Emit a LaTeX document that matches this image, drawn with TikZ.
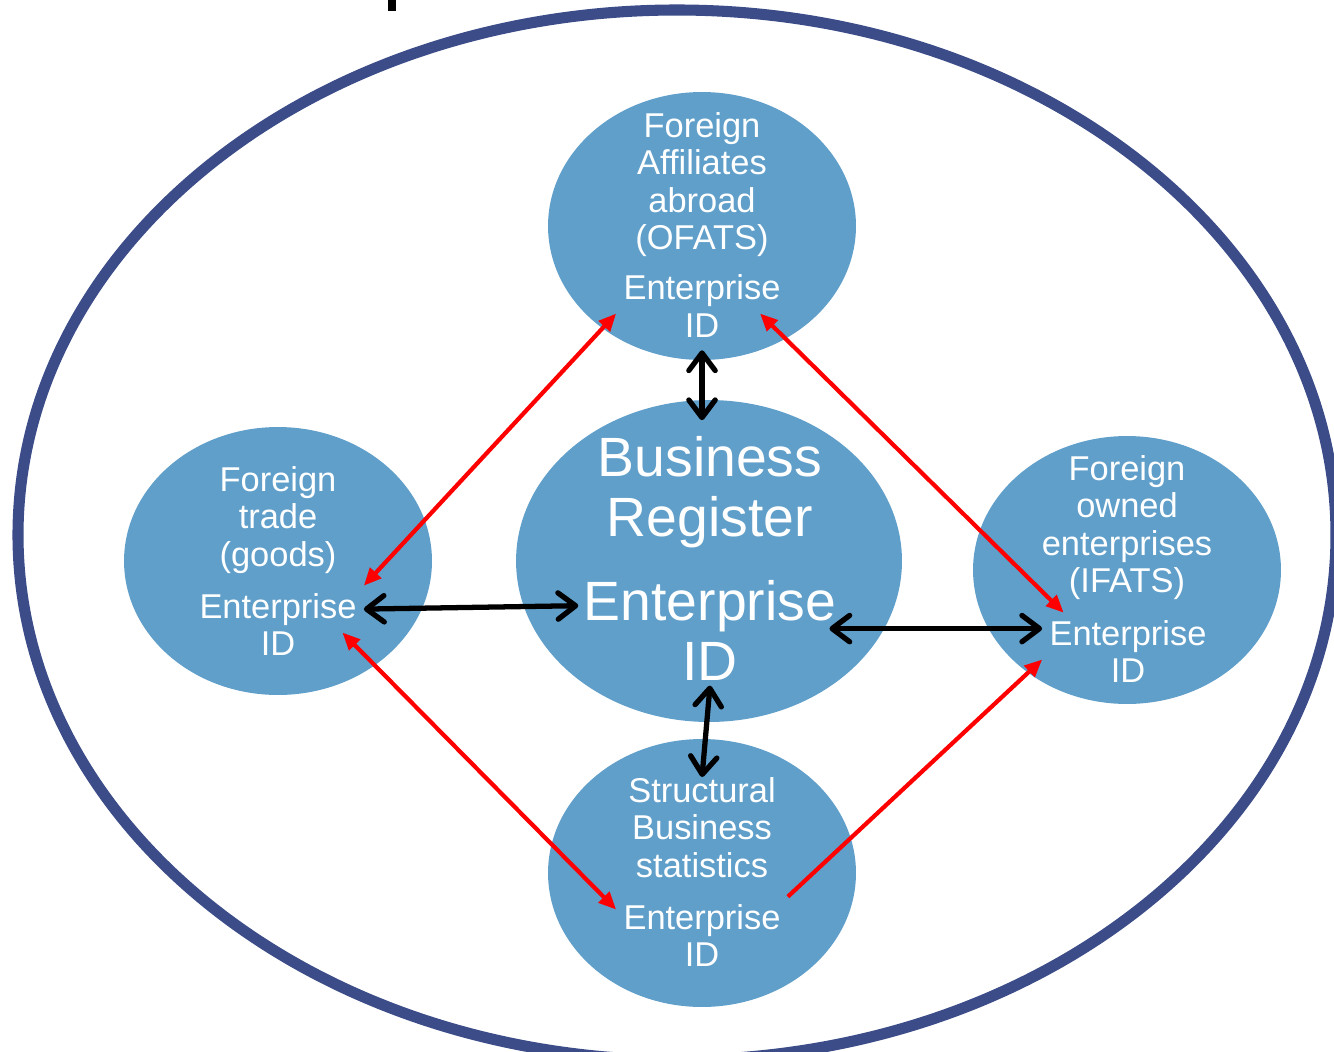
\documentclass[tikz,border=0pt]{standalone}
\usepackage{fontspec}
\setmainfont{Liberation Sans}
\usetikzlibrary{positioning,shapes.geometric,arrows.meta}
\definecolor{rimblue}{HTML}{3B4C89}
\definecolor{bubblue}{HTML}{609FCA}
\definecolor{linkred}{HTML}{FF0000}

\begin{document}
\begin{tikzpicture}[x=0.02cm, y=-0.02cm,
  bubble/.style={ellipse, fill=bubblue, draw=none, inner sep=0pt, minimum width=6.16cm, minimum height=5.36cm},
  bubtext/.style={text=white, font=\fontsize{19.6}{21.3}\selectfont, align=center, inner sep=0pt, anchor=north},
  bigtext/.style={text=white, font=\fontsize{31.5}{34}\selectfont, align=center, inner sep=0pt, anchor=north},
  entid/.style={text=white, font=\fontsize{19.6}{21.3}\selectfont, inner sep=4pt, anchor=base},
  bigid/.style={text=white, font=\fontsize{31.5}{34}\selectfont, inner sep=3pt, anchor=base},
  blklink/.style={black, line width=3pt, {Straight Barb[length=10pt,width=15pt,round]}-{Straight Barb[length=10pt,width=15pt,round]}},
  redlink/.style={linkred, line width=2.4pt, -{Triangle[length=10pt,width=8.5pt]}},
  redboth/.style={redlink, {Triangle[length=10pt,width=8.5pt]}-{Triangle[length=10pt,width=8.5pt]}},
]
\useasboundingbox (0,0) rectangle (1334,1051);
\clip (0,0) rectangle (1334,1051);

% outer ring
\draw[rimblue, line width=6.3pt] (677,535) ellipse [x radius=659, y radius=525];
\fill (388,0) rectangle (396,11);

% bubbles
\node[bubble] (ofats) at (702,226) {};
\node[bubble] (trade) at (278,561) {};
\node[bubble] (ifats) at (1127,570) {};
\node[bubble] (sbs) at (702,873) {};
\node[bubble, minimum width=7.72cm, minimum height=6.44cm] (breg) at (709,561) {};

% titles
\node[bubtext] (ofatstitle) at (702,112) {Foreign\\Affiliates\\abroad\\(OFATS)};
\node[bubtext] (tradetitle) at (278,466) {Foreign\\trade\\(goods)};
\node[bubtext] (ifatstitle) at (1127,455) {Foreign\\owned\\enterprises\\(IFATS)};
\node[bubtext] (sbstitle) at (702,777) {Structural\\Business\\statistics};
\node[bigtext] (bregtitle) at (710,436) {Business\\Register};

% enterprise ids
\node[entid] (ofatsent) at (702,299) {Enterprise};
\node[entid] (ofatsid) at (702,337) {ID};
\node[entid] (tradeent) at (278,618) {Enterprise};
\node[entid] (tradeid) at (278,655) {ID};
\node[entid] (ifatsent) at (1128,645) {Enterprise};
\node[entid] (ifatsid) at (1128,682) {ID};
\node[entid] (sbsent) at (702,929) {Enterprise};
\node[entid] (sbsid) at (702,966) {ID};
\node[bigid] (bregent) at (710,620) {Enterprise};
\node[bigid] (bregid) at (710,680) {ID};

% links to the register
\draw[blklink, shorten <=3.4pt, shorten >=9pt] (ofatsid.south) -- (ofatsid.south |- bregtitle.north);
\draw[blklink] (tradeent.east) -- (bregent.west);
\draw[blklink, shorten >=-7pt] (ifatsent.175) -- (ifatsent.175 -| bregent.east);
\draw[blklink] (bregid.south) -- (sbstitle.north);

% links between surveys
\draw[redboth] (tradeent.north east) -- (ofatsent.south west);
\draw[redboth] (ofatsent.-22) -- (ifatsent.160);
\draw[redboth] (tradeent.-20) -- (sbsent.173);
\draw[redlink] (sbsent.north east) -- (ifatsent.south west);
\end{tikzpicture}
\end{document}
